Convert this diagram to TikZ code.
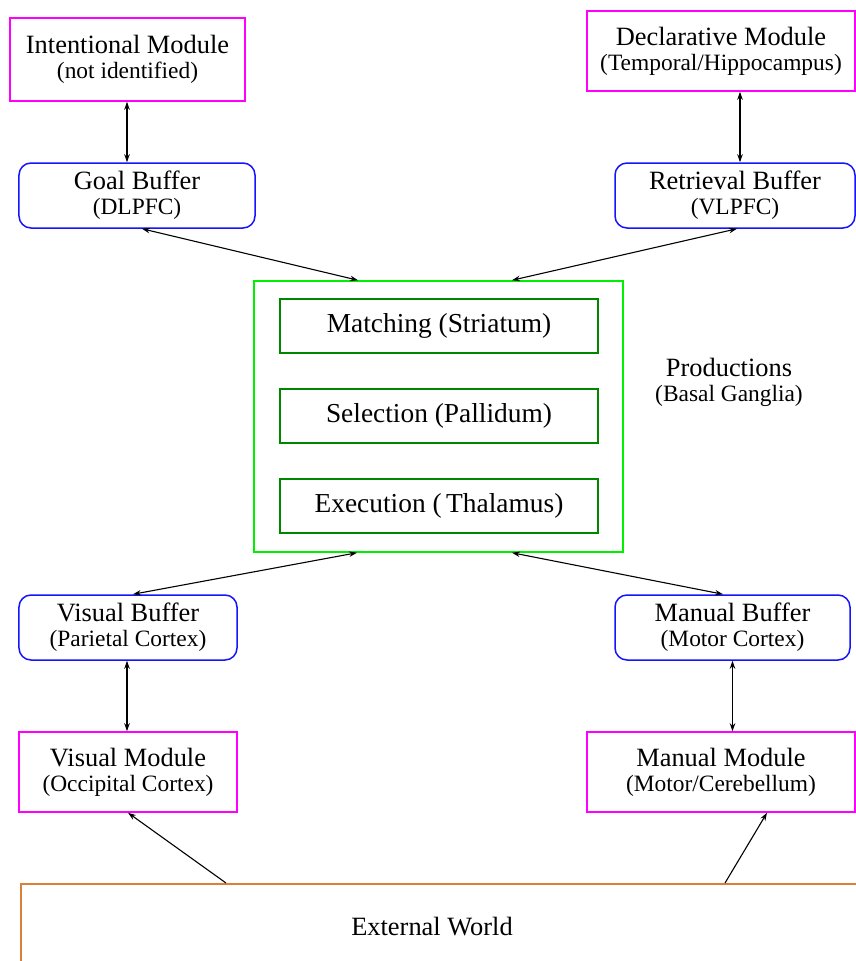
\documentclass[tikz,border=0pt]{standalone}
\usepackage{fontspec}
\setmainfont{Liberation Serif}
\usetikzlibrary{arrows.meta,calc}

\definecolor{modcol}{RGB}{255,0,255}
\definecolor{bufcol}{RGB}{20,20,255}
\definecolor{prodcol}{RGB}{0,240,0}
\definecolor{stagecol}{RGB}{0,135,0}
\definecolor{worldcol}{RGB}{215,130,55}

\newcommand{\ttlsize}{\fontsize{26.5}{25}\selectfont}
\newcommand{\subsize}{\fontsize{23.5}{25}\selectfont}
\newcommand{\stagesize}{\fontsize{27.5}{25}\selectfont}

\tikzset{
  box/.style={draw, line width=1.5bp, fill=white, inner sep=0pt, align=center,
              font=\ttlsize, text=black},
  module/.style={box, draw=modcol, minimum height=80bp},
  buffer/.style={box, draw=bufcol, rounded corners=12bp, minimum height=65bp},
  prodbox/.style={draw=prodcol, line width=1.5bp, inner sep=0pt,
                  minimum width=369bp, minimum height=271bp},
  stagebox/.style={box, draw=stagecol, font=\stagesize,
                   minimum width=318bp, minimum height=54bp},
  worldbox/.style={draw=worldcol, line width=1.5bp, inner sep=0pt,
                   minimum width=880bp, minimum height=140bp},
  caption/.style={align=center, font=\ttlsize, inner sep=0pt},
  link/.style={draw=black, line width=1.1bp,
               {Stealth[length=8bp,width=5.5bp]}-{Stealth[length=8bp,width=5.5bp]}},
  inlink/.style={draw=black, line width=1.1bp, -{Stealth[length=8bp,width=5.5bp]}}
}

\begin{document}
\begin{tikzpicture}[x=1bp, y=-1bp]
\useasboundingbox (0,0) rectangle (856,961);
\clip (0,0) rectangle (856,961);

% modules and buffers, top row
\node[module, minimum width=235bp, minimum height=83bp] (intent) at (127.5,59.5)
  {Intentional Module\\{\subsize (not identified)}};
\node[buffer, minimum width=236bp] (goal) at (137,195.5)
  {Goal Buffer\\{\subsize (DLPFC)}};
\node[module, minimum width=268bp] (decl) at (721,51)
  {Declarative Module\\{\subsize (Temporal/Hippocampus)}};
\node[buffer, minimum width=240bp] (retr) at (735,195.5)
  {Retrieval Buffer\\{\subsize (VLPFC)}};

% production system
\node[prodbox] (prod) at (438.5,416.5) {};
\node[stagebox] (match) at (439,326) {Matching (Striatum)};
\node[stagebox] (select) at (439,416) {Selection (Pallidum)};
\node[stagebox] (exec) at (439,506) {Execution (\,Thalamus)};
\node[caption] (prodlabel) at (729,382)
  {Productions\\{\subsize (Basal Ganglia)}};

% buffers and modules, bottom row
\node[buffer, minimum width=218bp] (visbuf) at (128,627.5)
  {Visual Buffer\\{\subsize (Parietal Cortex)}};
\node[module, minimum width=218bp] (vismod) at (128,772)
  {Visual Module\\{\subsize (Occipital Cortex)}};
\node[buffer, minimum width=235bp] (manbuf) at (732.5,627.5)
  {Manual Buffer\\{\subsize (Motor Cortex)}};
\node[module, minimum width=268bp] (manmod) at (721,772)
  {Manual Module\\{\subsize (Motor/Cerebellum)}};

% environment
\node[worldbox, anchor=north west] (world) at (20,883) {};
\node[caption] (worldlabel) at (432,927) {External World};

% connections
\draw[link] (intent.south -| 127,0) -- (goal.north -| 127,0);
\draw[link] ($(decl.south)+(19,0)$) -- ($(retr.north)+(5,0)$);
\draw[link] ($(goal.south)+(5,0)$) -- ($(prod.north)+(-80.5,0)$);
\draw[link] ($(retr.south)+(2,0)$) -- ($(prod.north)+(73.5,0)$);
\draw[link] ($(prod.south)+(-81.5,0)$) -- ($(visbuf.north)+(5,0)$);
\draw[link] ($(prod.south)+(73.5,0)$) -- ($(manbuf.north)+(-9.5,0)$);
\draw[link] ($(visbuf.south)+(-1,0)$) -- ($(vismod.north)+(-1,0)$);
\draw[link] (manbuf.south) -- (manbuf.south |- manmod.north);
\draw[inlink] ($(world.north west)+(206,0)$) -- (vismod.south);
\draw[inlink] ($(world.north west)+(705,0)$) -- ($(manmod.south)+(46,0)$);
\end{tikzpicture}
\end{document}
